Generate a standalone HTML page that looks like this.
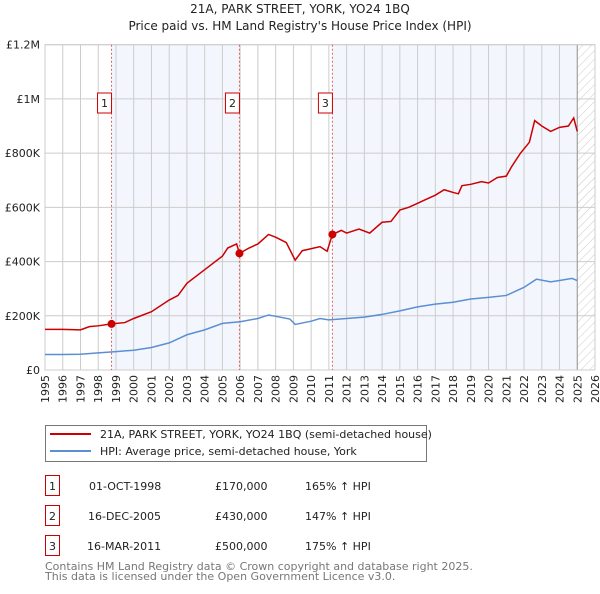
<!DOCTYPE html>
<html><head><meta charset="utf-8"><style>
body{margin:0;background:#fff;font-family:"DejaVu Sans","Liberation Sans",sans-serif;}
svg text{font-family:"DejaVu Sans","Liberation Sans",sans-serif;}
</style></head><body>
<svg id="chart" width="600" height="590" xmlns="http://www.w3.org/2000/svg">
<defs><pattern id="hatch" width="6" height="6" patternUnits="userSpaceOnUse" patternTransform="rotate(45)"><line x1="0" y1="0" x2="0" y2="6" stroke="#bbb" stroke-width="0.8"/></pattern></defs>
<text x="300" y="13" text-anchor="middle" font-size="12" fill="#222">21A, PARK STREET, YORK, YO24 1BQ</text>
<text x="300" y="30" text-anchor="middle" font-size="12" fill="#222">Price paid vs. HM Land Registry's House Price Index (HPI)</text>
<g id="plot"></g>
<g>
<rect x="45.5" y="425.5" width="381" height="36" fill="#fff" stroke="#777"/>
<line x1="50" y1="434" x2="91" y2="434" stroke="#cc0000" stroke-width="2"/>
<text x="100" y="438" font-size="11" fill="#222">21A, PARK STREET, YORK, YO24 1BQ (semi-detached house)</text>
<line x1="50" y1="451" x2="91" y2="451" stroke="#5b8fd4" stroke-width="2"/>
<text x="100" y="455" font-size="11" fill="#222">HPI: Average price, semi-detached house, York</text>
</g>
<g font-size="11" fill="#222">
<rect x="45.5" y="475.5" width="14" height="20" fill="none" stroke="#cc0000"/><text x="52.5" y="490" text-anchor="middle">1</text>
<text x="89" y="490">01-OCT-1998</text><text x="215" y="490">£170,000</text><text x="305" y="490">165% ↑ HPI</text>
<rect x="45.5" y="505.5" width="14" height="20" fill="none" stroke="#cc0000"/><text x="52.5" y="520" text-anchor="middle">2</text>
<text x="88" y="520">16-DEC-2005</text><text x="215" y="520">£430,000</text><text x="305" y="520">147% ↑ HPI</text>
<rect x="45.5" y="535.5" width="14" height="20" fill="none" stroke="#cc0000"/><text x="52.5" y="550" text-anchor="middle">3</text>
<text x="87" y="550">16-MAR-2011</text><text x="215" y="550">£500,000</text><text x="305" y="550">175% ↑ HPI</text>
</g>
<text x="45" y="570" font-size="11" fill="#777">Contains HM Land Registry data © Crown copyright and database right 2025.</text>
<text x="45" y="580" font-size="11" fill="#777">This data is licensed under the Open Government Licence v3.0.</text>
</svg>
<script>
const yearTicks=[1995,1996,1997,1998,1999,2000,2001,2002,2003,2004,2005,2006,2007,2008,2009,2010,2011,2012,2013,2014,2015,2016,2017,2018,2019,2020,2021,2022,2023,2024,2025,2026];
const valueTicks=[0,200000,400000,600000,800000,1000000,1200000];
const valueTickLabels=["£0","£200K","£400K","£600K","£800K","£1M","£1.2M"];
const hpiYears=[1995,1996,1997,1998,1999,2000,2001,2002,2003,2004,2005,2006,2007,2007.6,2008,2008.8,2009.1,2010,2010.5,2011,2012,2013,2014,2015,2016,2017,2018,2019,2020,2021,2022,2022.7,2023.5,2024,2024.7,2025];
const hpiValues=[57000,57000,58000,63000,68000,73000,83000,100000,130000,148000,172000,178000,190000,203000,198000,188000,168000,180000,190000,185000,190000,195000,205000,218000,233000,243000,250000,262000,268000,275000,305000,335000,325000,330000,338000,330000];
const priceYears=[1995,1996,1997,1997.5,1998,1998.75,1999.5,2000,2001,2002,2002.5,2003,2004,2005,2005.3,2005.8,2005.96,2006.5,2007,2007.6,2008,2008.6,2009.1,2009.5,2010.5,2010.9,2011.2,2011.7,2012,2012.7,2013.3,2014,2014.5,2015,2015.5,2016,2016.5,2017,2017.5,2018,2018.3,2018.5,2019,2019.6,2020,2020.5,2021,2021.3,2021.8,2022.3,2022.6,2023,2023.5,2024,2024.5,2024.8,2025];
const priceValues=[150000,150000,148000,160000,163000,170000,175000,190000,215000,258000,275000,320000,370000,420000,450000,465000,430000,450000,465000,500000,490000,470000,405000,440000,455000,438000,500000,515000,505000,520000,505000,545000,548000,590000,600000,615000,630000,645000,665000,655000,650000,680000,685000,695000,690000,710000,715000,750000,800000,840000,920000,900000,880000,895000,900000,930000,880000];
const saleYears=[1998.75,2005.96,2011.2];
const saleValues=[170000,430000,500000];
const saleLabels=["1","2","3"];

const X0=45,X1=595,Y0=370,Y1=44.7;
const xs=y=>X0+(y-1995)/(2026-1995)*(X1-X0);
const ys=v=>Y0-v/1200000*(Y0-Y1);
const NS="http://www.w3.org/2000/svg";
const plot=document.getElementById('plot');
function mk(tag,attrs,parent){const e=document.createElementNS(NS,tag);for(const k in attrs)e.setAttribute(k,attrs[k]);(parent||plot).appendChild(e);return e;}

mk('rect',{x:X0,y:Y1,width:X1-X0,height:Y0-Y1,fill:'#fff'});
let r=mk('rect',{x:xs(saleYears[0]),y:Y1,width:xs(saleYears[1])-xs(saleYears[0]),height:Y0-Y1,fill:'#eef3fc',opacity:0.7});


r=mk('rect',{x:xs(saleYears[2]),y:Y1,width:xs(2025)-xs(saleYears[2]),height:Y0-Y1,fill:'#eef3fc',opacity:0.7});


r=mk('rect',{x:xs(2025),y:Y1,width:X1-xs(2025),height:Y0-Y1,fill:'url(#hatch)'});



yearTicks.forEach(y=>{
  mk('line',{x1:xs(y),y1:Y1,x2:xs(y),y2:Y0,stroke:'#ccc','stroke-width':1});
  const tx=xs(y)+4, ty=Y0+5;
  const g=mk('g',{transform:'translate('+tx+','+ty+')'});
  const t=mk('text',{x:0,y:0,transform:'rotate(-90)','text-anchor':'end','font-size':11,fill:'#222'},g);
  t.textContent=y;
  
  
});
valueTicks.forEach((v,i)=>{
  mk('line',{x1:X0,y1:ys(v),x2:X1,y2:ys(v),stroke:'#ccc','stroke-width':1});
  const t=mk('text',{x:X0-5,y:ys(v)+4,'text-anchor':'end','font-size':11,fill:'#222'});
  t.textContent=valueTickLabels[i];
  
  
});
mk('line',{x1:xs(2025),y1:Y1,x2:xs(2025),y2:Y0,stroke:'#999','stroke-width':1});
mk('rect',{x:X0,y:Y1,width:X1-X0,height:Y0-Y1,fill:'none',stroke:'#ccc'});

saleYears.forEach((y,i)=>{
  const l=mk('line',{x1:xs(y),y1:Y1,x2:xs(y),y2:Y0,stroke:'#e06060','stroke-width':1,'stroke-dasharray':'2,2'});
  
  
  mk('rect',{x:xs(y)-14,y:93,width:14,height:20,fill:'#fff',stroke:'#cc0000'});
  const t=mk('text',{x:xs(y)-7,y:107,'text-anchor':'middle','font-size':11,fill:'#222'});
  t.textContent=saleLabels[i];
  
  
});

const hp=mk('polyline',{points:hpiYears.map((y,i)=>xs(y)+','+ys(hpiValues[i])).join(' '),fill:'none',stroke:'#5b8fd4','stroke-width':1.5});


const pp=mk('polyline',{points:priceYears.map((y,i)=>xs(y)+','+ys(priceValues[i])).join(' '),fill:'none',stroke:'#cc0000','stroke-width':1.5});


saleYears.forEach((y,i)=>{
  const c=mk('circle',{cx:xs(y),cy:ys(saleValues[i]),r:4,fill:'#cc0000'});
  
  
});
</script>
</body></html>
